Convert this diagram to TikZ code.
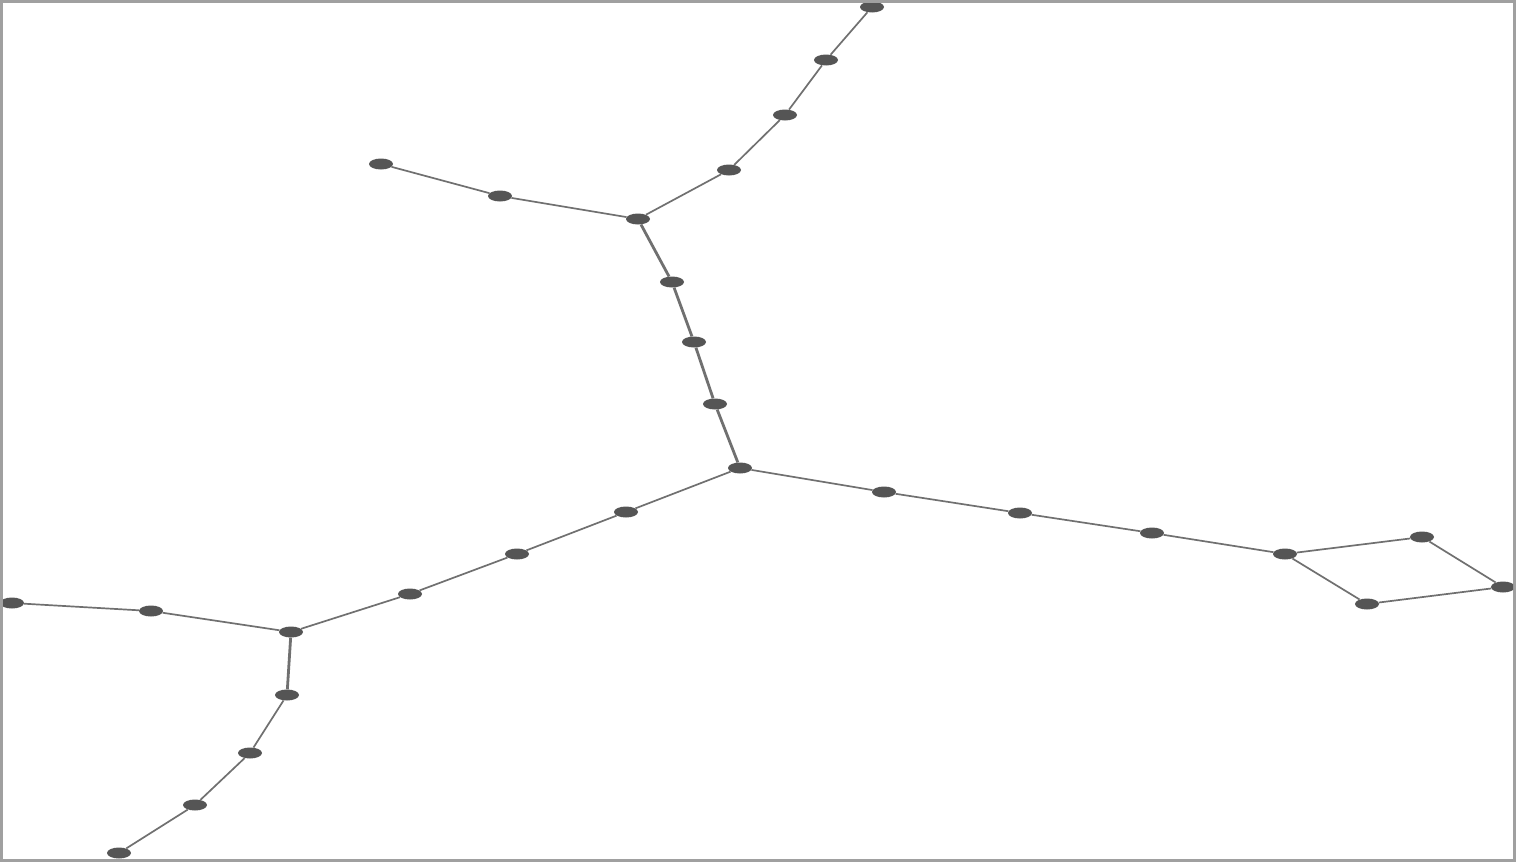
\documentclass[tikz,border=0pt]{standalone}
\usetikzlibrary{shapes.geometric}
\definecolor{nodegray}{HTML}{555555}
\definecolor{edgegray}{HTML}{707070}
\definecolor{framegray}{HTML}{A0A0A0}
\begin{document}
\begin{tikzpicture}[x=1pt,y=-1pt,
  vtx/.style={ellipse,fill=nodegray,draw=none,minimum width=24pt,minimum height=11pt,inner sep=0pt},
  edge/.style={draw=edgegray,line width=1.7pt},
  thick edge/.style={draw=edgegray,line width=2.8pt}]
\fill[white] (0,0) rectangle (1516,862);
\draw[framegray,line width=3pt] (1.5,1.5) rectangle (1514.5,860.5);
\begin{scope}
\clip (3,3) rectangle (1513,859);
\node[vtx] (t1) at (872,7) {};
\node[vtx] (t2) at (826,60) {};
\node[vtx] (t3) at (785,115) {};
\node[vtx] (t4) at (729,170) {};
\node[vtx] (h1) at (638,219) {};
\node[vtx] (l1) at (500,196) {};
\node[vtx] (l2) at (381,164) {};
\node[vtx] (m1) at (672,282) {};
\node[vtx] (m2) at (694,342) {};
\node[vtx] (m3) at (715,404) {};
\node[vtx] (h2) at (740,468) {};
\node[vtx] (r1) at (884,492) {};
\node[vtx] (r2) at (1020,513) {};
\node[vtx] (r3) at (1152,533) {};
\node[vtx] (h3) at (1285,554) {};
\node[vtx] (d1) at (1422,537) {};
\node[vtx] (d2) at (1503,587) {};
\node[vtx] (d3) at (1367,604) {};
\node[vtx] (s1) at (626,512) {};
\node[vtx] (s2) at (517,554) {};
\node[vtx] (s3) at (410,594) {};
\node[vtx] (h4) at (291,632) {};
\node[vtx] (w1) at (151,611) {};
\node[vtx] (w2) at (12,603) {};
\node[vtx] (b1) at (287,695) {};
\node[vtx] (b2) at (250,753) {};
\node[vtx] (b3) at (195,805) {};
\node[vtx] (b4) at (119,853) {};
\path[edge] (t1) -- (t2) -- (t3) -- (t4) -- (h1);
\path[edge] (h1) -- (l1) -- (l2);
\path[thick edge] (h1) -- (m1) -- (m2) -- (m3) -- (h2);
\path[edge] (h2) -- (r1) -- (r2) -- (r3) -- (h3);
\path[edge] (h3) -- (d1) -- (d2) -- (d3) -- (h3);
\path[edge] (h2) -- (s1) -- (s2) -- (s3) -- (h4);
\path[edge] (h4) -- (w1) -- (w2);
\path[thick edge] (h4) -- (b1);
\path[edge] (b1) -- (b2) -- (b3) -- (b4);
\end{scope}
\end{tikzpicture}
\end{document}
